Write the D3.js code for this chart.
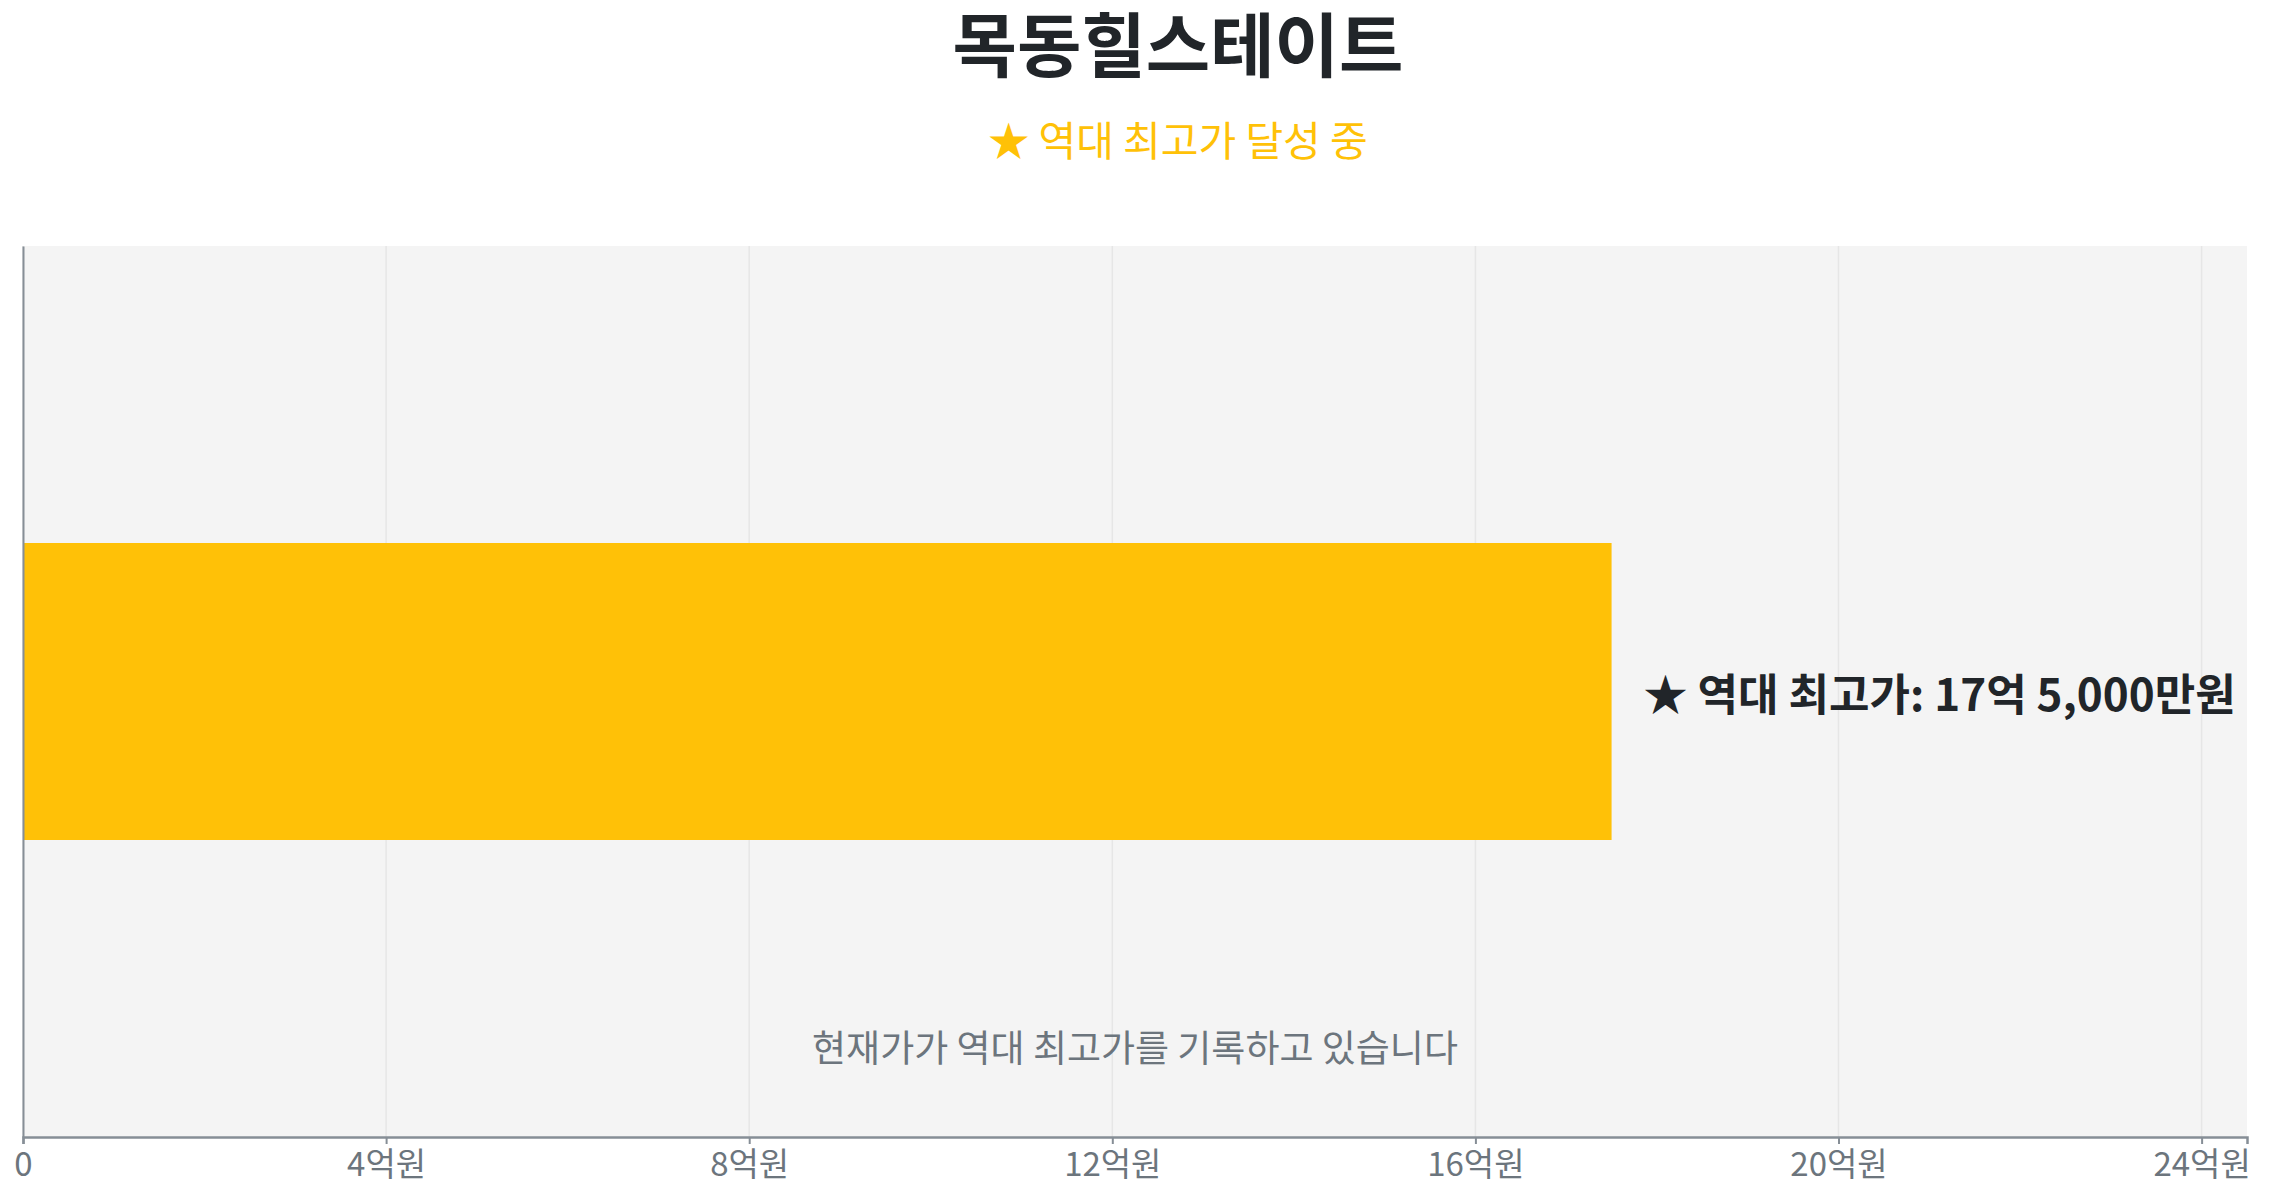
<!DOCTYPE html>
<html>
<head>
<meta charset="utf-8">
<script src="https://cdn.jsdelivr.net/npm/d3@7"></script>
<style>
  body { margin: 0; background: #fff; }
  text { font-family: "Noto Sans CJK KR", "Noto Sans", sans-serif; }
</style>
</head>
<body>
<div id="chart"></div>
<script>
// data
var categories = ["목동힐스테이트"];
var values = [17.5];           // 억원
var xTicks = [0, 4, 8, 12, 16, 20, 24];
var title = "목동힐스테이트";
var subtitle = "★ 역대 최고가 달성 중";
var barLabel = "★ 역대 최고가: 17억 5,000만원";
var note = "현재가가 역대 최고가를 기록하고 있습니다";

var width = 2269;
var height = 1200;
var margin = {top: 246, right: 22, bottom: 63, left: 23};

var svg = d3.select("#chart")
    .append("svg")
    .attr("width", width)
    .attr("height", height);

var xScale = d3.scaleLinear()
    .domain([0, d3.max(values) * 1.4])
    .range([margin.left, width - margin.right]);

var yScale = d3.scaleBand()
    .domain(categories)
    .range([margin.top, height - margin.bottom])
    .padding(0.5);

// plot background
svg.append("rect")
    .attr("x", margin.left)
    .attr("y", margin.top)
    .attr("width", width - margin.left - margin.right)
    .attr("height", height - margin.top - margin.bottom)
    .attr("fill", "#f4f4f4");

// grid
svg.append("g").selectAll("line").data(xTicks)
    .enter()
    .append("line")
    .attr("x1", function (d) { return xScale(d); })
    .attr("x2", function (d) { return xScale(d); })
    .attr("y1", margin.top)
    .attr("y2", height - margin.bottom)
    .attr("stroke", "#e6e6e6")
    .attr("stroke-width", 1.5);

// bars
svg.append("g").selectAll("rect").data(values)
    .enter()
    .append("rect")
    .attr("x", xScale(0))
    .attr("y", function (d, i) { return yScale(categories[i]); })
    .attr("width", function (d) { return xScale(d) - xScale(0); })
    .attr("height", yScale.bandwidth())
    .attr("fill", "#ffc107");

// bar label
svg.append("g").selectAll("text").data(values)
    .enter()
    .append("text")
    .attr("x", function (d) { return xScale(d) + 32; })
    .attr("y", function (d, i) { return yScale(categories[i]) + yScale.bandwidth() / 2; })
    .attr("dominant-baseline", "central")
    .attr("font-size", 44)
    .attr("font-weight", "bold")
    .attr("fill", "#212529")
    .text(barLabel);

// x axis
var xAxis = d3.axisBottom(xScale)
    .tickValues(xTicks)
    .tickSize(7)
    .tickPadding(9)
    .tickFormat(function (d) { return d === 0 ? "0" : d + "억원"; });

var gx = svg.append("g")
    .attr("transform", "translate(0," + (height - margin.bottom) + ")")
    .call(xAxis);
gx.select(".domain").attr("stroke", "#868e96").attr("stroke-width", 2.5);
gx.selectAll(".tick line").attr("stroke", "#868e96").attr("stroke-width", 2);
gx.selectAll(".tick text")
    .attr("font-size", 33)
    .attr("fill", "#6c757d")
    .attr("font-family", "Noto Sans CJK KR");

// y axis line
var yAxis = d3.axisLeft(yScale).tickSize(0).tickFormat("");
var gy = svg.append("g")
    .attr("transform", "translate(" + margin.left + ",0)")
    .call(yAxis);
gy.select(".domain").attr("stroke", "#868e96").attr("stroke-width", 2);

// titles
svg.append("text")
    .attr("x", 1178)
    .attr("y", 41)
    .attr("text-anchor", "middle")
    .attr("dominant-baseline", "central")
    .attr("font-size", 70)
    .attr("font-weight", "bold")
    .attr("fill", "#212529")
    .text(title);

svg.append("text")
    .attr("x", 1178)
    .attr("y", 138)
    .attr("text-anchor", "middle")
    .attr("dominant-baseline", "central")
    .attr("font-size", 41)
    .attr("fill", "#ffc107")
    .text(subtitle);

svg.append("text")
    .attr("x", (xScale.range()[0] + xScale.range()[1]) / 2)
    .attr("y", 1046)
    .attr("text-anchor", "middle")
    .attr("dominant-baseline", "central")
    .attr("font-size", 37)
    .attr("fill", "#6c757d")
    .text(note);
</script>
</body>
</html>
